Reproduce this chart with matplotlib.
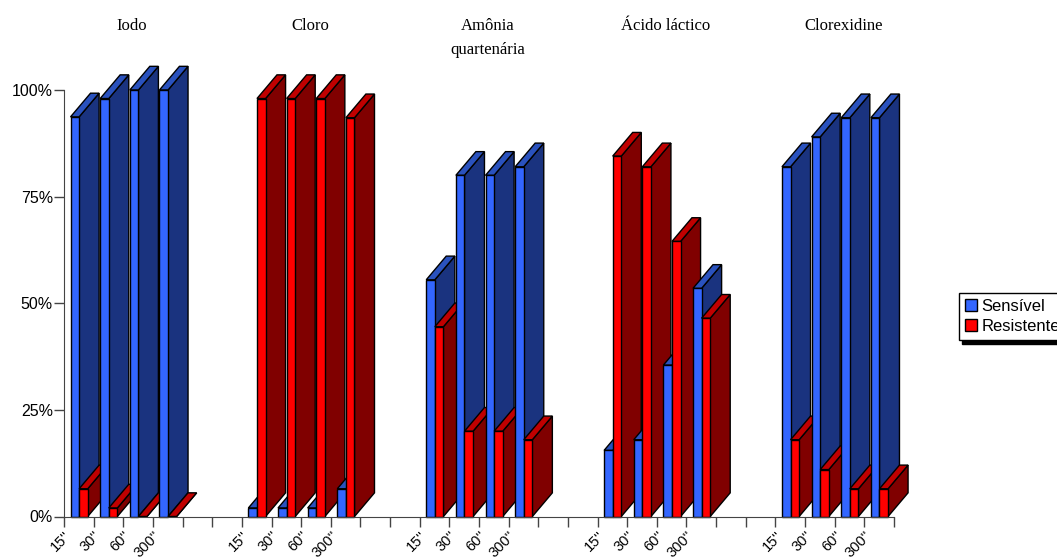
import matplotlib
matplotlib.use("Agg")
import matplotlib.pyplot as plt
from matplotlib.patches import Patch

# groups and times
grupos = ["Iodo", "Cloro", "Amônia\nquartenária", "Ácido láctico", "Clorexidine"]
tempos = ["15''", "30''", "60''", "300''"]

# percentages, one list per group
sensivel = [
    [93.7, 98, 100, 100],
    [2, 2, 2, 6.5],
    [55.5, 80, 80, 82],
    [15.5, 18, 35.5, 53.5],
    [82, 89, 93.5, 93.5],
]
resistente = [
    [6.5, 2, 0, 0],
    [98, 98, 98, 93.5],
    [44.5, 20, 20, 18],
    [84.5, 82, 64.5, 46.5],
    [18, 11, 6.5, 6.5],
]

azul = {"frente": "#3366ff", "topo": "#2a52be", "lado": "#1a337f"}
vermelho = {"frente": "#ff0000", "topo": "#c00000", "lado": "#800000"}

# fake 3d depth, in data units
DX = 20 / 29.65
DY = 5.55
LARG = 0.29


def barra3d(ax, x, v, cores):
    # side and top first, front face on top of them
    ax.fill([x + LARG, x + LARG + DX, x + LARG + DX, x + LARG],
            [0, DY, v + DY, v], fc=cores["lado"], ec="black", lw=1, clip_on=False)
    ax.fill([x, x + DX, x + LARG + DX, x + LARG],
            [v, v + DY, v + DY, v], fc=cores["topo"], ec="black", lw=1, clip_on=False)
    if v > 0:
        ax.bar(x, v, LARG, align="edge", color=cores["frente"], ec="black", lw=1, clip_on=False)


plt.rcParams["font.family"] = "Liberation Sans"
fig = plt.figure(figsize=(10.57, 5.59), dpi=100)
ax = fig.add_axes([64 / 1057, 42.5 / 559, 830 / 1057, 426.5 / 559])

rotulos = [""] * 29
for g in range(len(grupos)):
    inicio = g * 6
    for i in range(len(tempos)):
        x = inicio + i
        barra3d(ax, x + 0.22, sensivel[g][i], azul)
        barra3d(ax, x + 0.51, resistente[g][i], vermelho)
        rotulos[x] = tempos[i]
    ax.text(inicio + 2.3, 116.9, grupos[g], family="Liberation Serif", fontsize=12,
            ha="center", va="top", linespacing=1.7)

ax.set_xlim(0, 28)
ax.set_ylim(0, 100)
ax.set_xticks(range(29))
ax.set_xticklabels(rotulos, rotation=45, ha="right", rotation_mode="anchor", fontsize=10.5)
ax.set_yticks([0, 25, 50, 75, 100])
ax.set_yticklabels(["0%", "25%", "50%", "75%", "100%"], fontsize=11.5)
ax.tick_params(axis="both", length=7, width=1, color="#444444", pad=1)
ax.tick_params(axis="x", pad=2)

ax.spines["top"].set_visible(False)
ax.spines["right"].set_visible(False)
ax.spines["left"].set_color("#444444")
ax.spines["bottom"].set_color("#444444")

handles = [Patch(fc=azul["frente"], ec="black", label="Sensível"),
           Patch(fc=vermelho["frente"], ec="black", label="Resistente")]
fig.legend(handles=handles, loc="lower left", bbox_to_anchor=(959 / 1057, 219 / 559),
           borderaxespad=0, fontsize=12, fancybox=False, framealpha=1, edgecolor="black",
           handlelength=0.7, handleheight=0.7, handletextpad=0.3, borderpad=0.35,
           labelspacing=0.3, shadow={"color": "black", "alpha": 1, "ox": 2, "oy": -3})

fig.savefig("out.png", dpi=100)
